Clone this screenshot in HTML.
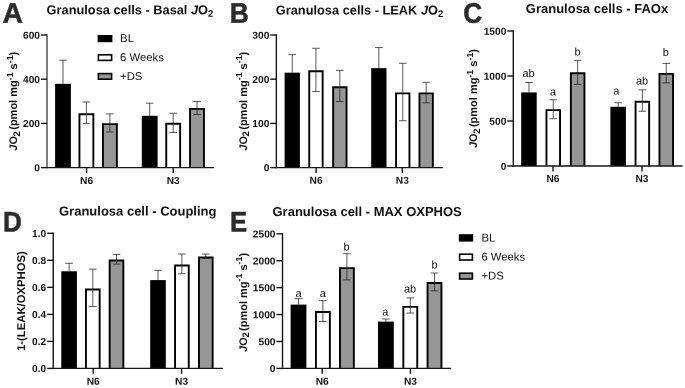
<!DOCTYPE html>
<html><head><meta charset="utf-8"><title>Figure</title>
<style>
html,body{margin:0;padding:0;background:#fff;}
body{width:685px;height:388px;overflow:hidden;font-family:"Liberation Sans",sans-serif;}
svg{display:block;will-change:transform;font-family:"Liberation Sans",sans-serif;}
svg text{fill:#111;text-rendering:geometricPrecision;}
</style></head><body>
<svg width="685" height="388" viewBox="0 0 685 388">
<rect width="685" height="388" fill="#fff"/>
<line x1="63" y1="83.84" x2="63" y2="60.19" stroke="#222" stroke-width="0.75"/>
<line x1="59.2" y1="60.19" x2="66.8" y2="60.19" stroke="#222" stroke-width="0.75"/>
<rect x="55.1" y="83.84" width="15.8" height="83.76" fill="#000"/>
<path d="M79.45 167.6V114.18H93.35V167.6" fill="#fff" stroke="#000" stroke-width="1.9"/>
<line x1="86.4" y1="123.62" x2="86.4" y2="101.96" stroke="#222" stroke-width="0.75"/>
<line x1="82.6" y1="101.96" x2="90.2" y2="101.96" stroke="#222" stroke-width="0.75"/>
<line x1="82.6" y1="123.62" x2="90.2" y2="123.62" stroke="#222" stroke-width="0.75"/>
<path d="M102.95 167.6V124.13H116.85V167.6" fill="#969696" stroke="#000" stroke-width="1.9"/>
<line x1="109.9" y1="132.02" x2="109.9" y2="113.9" stroke="#222" stroke-width="0.75"/>
<line x1="106.1" y1="113.9" x2="113.7" y2="113.9" stroke="#222" stroke-width="0.75"/>
<line x1="106.1" y1="132.02" x2="113.7" y2="132.02" stroke="#222" stroke-width="0.75"/>
<line x1="149.7" y1="115.78" x2="149.7" y2="103.18" stroke="#222" stroke-width="0.75"/>
<line x1="145.9" y1="103.18" x2="153.5" y2="103.18" stroke="#222" stroke-width="0.75"/>
<rect x="141.8" y="115.78" width="15.8" height="51.82" fill="#000"/>
<path d="M166.25 167.6V123.69H180.15V167.6" fill="#fff" stroke="#000" stroke-width="1.9"/>
<line x1="173.2" y1="132.46" x2="173.2" y2="113.23" stroke="#222" stroke-width="0.75"/>
<line x1="169.4" y1="113.23" x2="177" y2="113.23" stroke="#222" stroke-width="0.75"/>
<line x1="169.4" y1="132.46" x2="177" y2="132.46" stroke="#222" stroke-width="0.75"/>
<path d="M190.05 167.6V108.88H203.95V167.6" fill="#969696" stroke="#000" stroke-width="1.9"/>
<line x1="197" y1="114.56" x2="197" y2="101.52" stroke="#222" stroke-width="0.75"/>
<line x1="193.2" y1="101.52" x2="200.8" y2="101.52" stroke="#222" stroke-width="0.75"/>
<line x1="193.2" y1="114.56" x2="200.8" y2="114.56" stroke="#222" stroke-width="0.75"/>
<line x1="47" y1="34.3" x2="47" y2="168.3" stroke="#141414" stroke-width="1.1"/>
<line x1="46.3" y1="167.6" x2="214" y2="167.6" stroke="#141414" stroke-width="1.4"/>
<line x1="40.9" y1="167.6" x2="47" y2="167.6" stroke="#141414" stroke-width="1.4"/>
<text transform="translate(40,171.3) rotate(0.05)" text-anchor="end" font-size="10.2" font-weight="bold">0</text>
<line x1="40.9" y1="123.4" x2="47" y2="123.4" stroke="#141414" stroke-width="1.4"/>
<text transform="translate(40,127.1) rotate(0.05)" text-anchor="end" font-size="10.2" font-weight="bold">200</text>
<line x1="40.9" y1="79.2" x2="47" y2="79.2" stroke="#141414" stroke-width="1.4"/>
<text transform="translate(40,82.9) rotate(0.05)" text-anchor="end" font-size="10.2" font-weight="bold">400</text>
<line x1="40.9" y1="35" x2="47" y2="35" stroke="#141414" stroke-width="1.4"/>
<text transform="translate(40,38.7) rotate(0.05)" text-anchor="end" font-size="10.2" font-weight="bold">600</text>
<line x1="86.6" y1="167.6" x2="86.6" y2="173" stroke="#141414" stroke-width="1.4"/>
<text transform="translate(86.6,183.9) rotate(0.05)" text-anchor="middle" font-size="10.2" font-weight="bold">N6</text>
<line x1="173.2" y1="167.6" x2="173.2" y2="173" stroke="#141414" stroke-width="1.4"/>
<text transform="translate(173.2,183.9) rotate(0.05)" text-anchor="middle" font-size="10.2" font-weight="bold">N3</text>
<text transform="translate(2.5,22.7) rotate(0.05) scale(1,1)" font-size="28.3" font-weight="bold" style="fill:#2b2b2b;stroke:#2b2b2b;stroke-width:0.5;stroke-linejoin:miter">A</text>
<text transform="translate(46.6,14.2) rotate(0.05)" font-size="12.8" font-weight="bold" text-anchor="start">Granulosa cells - Basal <tspan font-style="italic">J</tspan>O<tspan font-size="9.5" dy="2.5">2</tspan></text>
<text transform="translate(17,150.7) rotate(-90)" text-anchor="start" font-size="11" font-weight="bold"><tspan font-style="italic">J</tspan>O<tspan font-size="9.5" dy="2.8" dx="-0.4">2</tspan><tspan dy="-2.8" dx="-1.7"> (pmol mg</tspan><tspan font-size="8.8" dy="-4.5">-1</tspan><tspan dy="4.5"> s</tspan><tspan font-size="8.8" dy="-4.5">-1</tspan><tspan dy="4.5">)</tspan></text>
<line x1="292.25" y1="72.66" x2="292.25" y2="54.58" stroke="#222" stroke-width="0.75"/>
<line x1="288.45" y1="54.58" x2="296.05" y2="54.58" stroke="#222" stroke-width="0.75"/>
<rect x="284.6" y="72.66" width="15.3" height="94.94" fill="#000"/>
<path d="M309.25 167.6V71.31H322.65V167.6" fill="#fff" stroke="#000" stroke-width="1.9"/>
<line x1="315.95" y1="91.58" x2="315.95" y2="48.26" stroke="#222" stroke-width="0.75"/>
<line x1="312.15" y1="48.26" x2="319.75" y2="48.26" stroke="#222" stroke-width="0.75"/>
<line x1="312.15" y1="91.58" x2="319.75" y2="91.58" stroke="#222" stroke-width="0.75"/>
<path d="M333.15 167.6V87.22H346.55V167.6" fill="#969696" stroke="#000" stroke-width="1.9"/>
<line x1="339.85" y1="101.52" x2="339.85" y2="70.36" stroke="#222" stroke-width="0.75"/>
<line x1="336.05" y1="70.36" x2="343.65" y2="70.36" stroke="#222" stroke-width="0.75"/>
<line x1="336.05" y1="101.52" x2="343.65" y2="101.52" stroke="#222" stroke-width="0.75"/>
<line x1="378.85" y1="68.15" x2="378.85" y2="47.55" stroke="#222" stroke-width="0.75"/>
<line x1="375.05" y1="47.55" x2="382.65" y2="47.55" stroke="#222" stroke-width="0.75"/>
<rect x="371.2" y="68.15" width="15.3" height="99.45" fill="#000"/>
<path d="M396.05 167.6V93.41H409.45V167.6" fill="#fff" stroke="#000" stroke-width="1.9"/>
<line x1="402.75" y1="120.75" x2="402.75" y2="63.29" stroke="#222" stroke-width="0.75"/>
<line x1="398.95" y1="63.29" x2="406.55" y2="63.29" stroke="#222" stroke-width="0.75"/>
<line x1="398.95" y1="120.75" x2="406.55" y2="120.75" stroke="#222" stroke-width="0.75"/>
<path d="M419.45 167.6V93.41H432.85V167.6" fill="#969696" stroke="#000" stroke-width="1.9"/>
<line x1="426.15" y1="102.85" x2="426.15" y2="82.29" stroke="#222" stroke-width="0.75"/>
<line x1="422.35" y1="82.29" x2="429.95" y2="82.29" stroke="#222" stroke-width="0.75"/>
<line x1="422.35" y1="102.85" x2="429.95" y2="102.85" stroke="#222" stroke-width="0.75"/>
<line x1="276.35" y1="34.3" x2="276.35" y2="168.3" stroke="#141414" stroke-width="1.4"/>
<line x1="275.65" y1="167.6" x2="442.8" y2="167.6" stroke="#141414" stroke-width="1.4"/>
<line x1="270.25" y1="167.6" x2="276.35" y2="167.6" stroke="#141414" stroke-width="1.4"/>
<text transform="translate(269.35,171.3) rotate(0.05)" text-anchor="end" font-size="10.2" font-weight="bold">0</text>
<line x1="270.25" y1="123.4" x2="276.35" y2="123.4" stroke="#141414" stroke-width="1.4"/>
<text transform="translate(269.35,127.1) rotate(0.05)" text-anchor="end" font-size="10.2" font-weight="bold">100</text>
<line x1="270.25" y1="79.2" x2="276.35" y2="79.2" stroke="#141414" stroke-width="1.4"/>
<text transform="translate(269.35,82.9) rotate(0.05)" text-anchor="end" font-size="10.2" font-weight="bold">200</text>
<line x1="270.25" y1="35" x2="276.35" y2="35" stroke="#141414" stroke-width="1.4"/>
<text transform="translate(269.35,38.7) rotate(0.05)" text-anchor="end" font-size="10.2" font-weight="bold">300</text>
<line x1="316.1" y1="167.6" x2="316.1" y2="173" stroke="#141414" stroke-width="1.4"/>
<text transform="translate(316.1,183.8) rotate(0.05)" text-anchor="middle" font-size="10.2" font-weight="bold">N6</text>
<line x1="402.3" y1="167.6" x2="402.3" y2="173" stroke="#141414" stroke-width="1.4"/>
<text transform="translate(402.3,183.8) rotate(0.05)" text-anchor="middle" font-size="10.2" font-weight="bold">N3</text>
<text transform="translate(229.7,22.7) rotate(0.05) scale(0.93,1)" font-size="28.3" font-weight="bold" style="fill:#2b2b2b;stroke:#2b2b2b;stroke-width:0.5;stroke-linejoin:miter">B</text>
<text transform="translate(275.8,14.4) rotate(0.05)" font-size="12.8" font-weight="bold" text-anchor="start">Granulosa cells - LEAK <tspan font-style="italic">J</tspan>O<tspan font-size="9.5" dy="2.5">2</tspan></text>
<text transform="translate(246.6,150.7) rotate(-90)" text-anchor="start" font-size="11" font-weight="bold"><tspan font-style="italic">J</tspan>O<tspan font-size="9.5" dy="2.8" dx="-0.4">2</tspan><tspan dy="-2.8" dx="-1.7"> (pmol mg</tspan><tspan font-size="8.8" dy="-4.5">-1</tspan><tspan dy="4.5"> s</tspan><tspan font-size="8.8" dy="-4.5">-1</tspan><tspan dy="4.5">)</tspan></text>
<line x1="528.95" y1="92.42" x2="528.95" y2="82.56" stroke="#222" stroke-width="0.75"/>
<line x1="525.15" y1="82.56" x2="532.75" y2="82.56" stroke="#222" stroke-width="0.75"/>
<rect x="521.2" y="92.42" width="15.5" height="73.58" fill="#000"/>
<path d="M546.45 166V110.14H560.05V166" fill="#fff" stroke="#000" stroke-width="1.9"/>
<line x1="553.25" y1="118.7" x2="553.25" y2="99.78" stroke="#222" stroke-width="0.75"/>
<line x1="549.45" y1="99.78" x2="557.05" y2="99.78" stroke="#222" stroke-width="0.75"/>
<line x1="549.45" y1="118.7" x2="557.05" y2="118.7" stroke="#222" stroke-width="0.75"/>
<path d="M570.85 166V73.29H584.45V166" fill="#969696" stroke="#000" stroke-width="1.9"/>
<line x1="577.65" y1="84.35" x2="577.65" y2="60.41" stroke="#222" stroke-width="0.75"/>
<line x1="573.85" y1="60.41" x2="581.45" y2="60.41" stroke="#222" stroke-width="0.75"/>
<line x1="573.85" y1="84.35" x2="581.45" y2="84.35" stroke="#222" stroke-width="0.75"/>
<line x1="618.15" y1="106.77" x2="618.15" y2="102.73" stroke="#222" stroke-width="0.75"/>
<line x1="614.35" y1="102.73" x2="621.95" y2="102.73" stroke="#222" stroke-width="0.75"/>
<rect x="610.4" y="106.77" width="15.5" height="59.23" fill="#000"/>
<path d="M635.55 166V101.71H649.15V166" fill="#fff" stroke="#000" stroke-width="1.9"/>
<line x1="642.35" y1="111.25" x2="642.35" y2="89.82" stroke="#222" stroke-width="0.75"/>
<line x1="638.55" y1="89.82" x2="646.15" y2="89.82" stroke="#222" stroke-width="0.75"/>
<line x1="638.55" y1="111.25" x2="646.15" y2="111.25" stroke="#222" stroke-width="0.75"/>
<path d="M659.45 166V73.92H673.05V166" fill="#969696" stroke="#000" stroke-width="1.9"/>
<line x1="666.25" y1="82.92" x2="666.25" y2="63.37" stroke="#222" stroke-width="0.75"/>
<line x1="662.45" y1="63.37" x2="670.05" y2="63.37" stroke="#222" stroke-width="0.75"/>
<line x1="662.45" y1="82.92" x2="670.05" y2="82.92" stroke="#222" stroke-width="0.75"/>
<line x1="513.3" y1="30.3" x2="513.3" y2="166.7" stroke="#141414" stroke-width="1.4"/>
<line x1="512.6" y1="166" x2="682.5" y2="166" stroke="#141414" stroke-width="1.4"/>
<line x1="507.2" y1="166" x2="513.3" y2="166" stroke="#141414" stroke-width="1.4"/>
<text transform="translate(506.3,169.7) rotate(0.05)" text-anchor="end" font-size="10.2" font-weight="bold">0</text>
<line x1="507.2" y1="121" x2="513.3" y2="121" stroke="#141414" stroke-width="1.4"/>
<text transform="translate(506.3,124.7) rotate(0.05)" text-anchor="end" font-size="10.2" font-weight="bold">500</text>
<line x1="507.2" y1="76" x2="513.3" y2="76" stroke="#141414" stroke-width="1.4"/>
<text transform="translate(506.3,79.7) rotate(0.05)" text-anchor="end" font-size="10.2" font-weight="bold">1000</text>
<line x1="507.2" y1="31" x2="513.3" y2="31" stroke="#141414" stroke-width="1.4"/>
<text transform="translate(506.3,34.7) rotate(0.05)" text-anchor="end" font-size="10.2" font-weight="bold">1500</text>
<line x1="553" y1="166" x2="553" y2="171.4" stroke="#141414" stroke-width="1.4"/>
<text transform="translate(553,182) rotate(0.05)" text-anchor="middle" font-size="10.2" font-weight="bold">N6</text>
<line x1="642" y1="166" x2="642" y2="171.4" stroke="#141414" stroke-width="1.4"/>
<text transform="translate(642,182) rotate(0.05)" text-anchor="middle" font-size="10.2" font-weight="bold">N3</text>
<text transform="translate(463.2,22.8) rotate(0.05) scale(0.93,1)" font-size="28.3" font-weight="bold" style="fill:#2b2b2b;stroke:#2b2b2b;stroke-width:0.5;stroke-linejoin:miter">C</text>
<text transform="translate(525.8,13) rotate(0.05)" font-size="13.0" font-weight="bold" text-anchor="start">Granulosa cells - FAOx</text>
<text transform="translate(477.2,148) rotate(-90)" text-anchor="start" font-size="11" font-weight="bold"><tspan font-style="italic">J</tspan>O<tspan font-size="9.5" dy="2.8" dx="-0.4">2</tspan><tspan dy="-2.8" dx="-1.7"> (pmol mg</tspan><tspan font-size="8.8" dy="-4.5">-1</tspan><tspan dy="4.5"> s</tspan><tspan font-size="8.8" dy="-4.5">-1</tspan><tspan dy="4.5">)</tspan></text>
<text transform="translate(528.5,77) rotate(0.05)" text-anchor="middle" font-size="11">ab</text>
<text transform="translate(553,95.5) rotate(0.05)" text-anchor="middle" font-size="11">a</text>
<text transform="translate(577.5,55.4) rotate(0.05)" text-anchor="middle" font-size="11">b</text>
<text transform="translate(616.3,94.5) rotate(0.05)" text-anchor="middle" font-size="11">a</text>
<text transform="translate(642.1,84.5) rotate(0.05)" text-anchor="middle" font-size="11">ab</text>
<text transform="translate(665.9,55.9) rotate(0.05)" text-anchor="middle" font-size="11">b</text>
<line x1="69.1" y1="271.26" x2="69.1" y2="263.29" stroke="#222" stroke-width="0.75"/>
<line x1="65.3" y1="263.29" x2="72.9" y2="263.29" stroke="#222" stroke-width="0.75"/>
<rect x="61.3" y="271.26" width="15.6" height="97.14" fill="#000"/>
<path d="M85.95 368.4V289.44H99.65V368.4" fill="#fff" stroke="#000" stroke-width="1.9"/>
<line x1="92.8" y1="306.58" x2="92.8" y2="269.16" stroke="#222" stroke-width="0.75"/>
<line x1="89" y1="269.16" x2="96.6" y2="269.16" stroke="#222" stroke-width="0.75"/>
<line x1="89" y1="306.58" x2="96.6" y2="306.58" stroke="#222" stroke-width="0.75"/>
<path d="M109.65 368.4V260.43H123.35V368.4" fill="#969696" stroke="#000" stroke-width="1.9"/>
<line x1="116.5" y1="264.1" x2="116.5" y2="254.44" stroke="#222" stroke-width="0.75"/>
<line x1="112.7" y1="254.44" x2="120.3" y2="254.44" stroke="#222" stroke-width="0.75"/>
<line x1="112.7" y1="264.1" x2="120.3" y2="264.1" stroke="#222" stroke-width="0.75"/>
<line x1="158" y1="280.09" x2="158" y2="270.41" stroke="#222" stroke-width="0.75"/>
<line x1="154.2" y1="270.41" x2="161.8" y2="270.41" stroke="#222" stroke-width="0.75"/>
<rect x="150.2" y="280.09" width="15.6" height="88.31" fill="#000"/>
<path d="M175.05 368.4V265.49H188.75V368.4" fill="#fff" stroke="#000" stroke-width="1.9"/>
<line x1="181.9" y1="273.78" x2="181.9" y2="254.02" stroke="#222" stroke-width="0.75"/>
<line x1="178.1" y1="254.02" x2="185.7" y2="254.02" stroke="#222" stroke-width="0.75"/>
<line x1="178.1" y1="273.78" x2="185.7" y2="273.78" stroke="#222" stroke-width="0.75"/>
<path d="M198.95 368.4V257.49H212.65V368.4" fill="#969696" stroke="#000" stroke-width="1.9"/>
<line x1="205.8" y1="258.2" x2="205.8" y2="254.02" stroke="#222" stroke-width="0.75"/>
<line x1="202" y1="254.02" x2="209.6" y2="254.02" stroke="#222" stroke-width="0.75"/>
<line x1="202" y1="258.2" x2="209.6" y2="258.2" stroke="#222" stroke-width="0.75"/>
<line x1="53.25" y1="232.6" x2="53.25" y2="369.1" stroke="#141414" stroke-width="1.4"/>
<line x1="52.55" y1="368.4" x2="222.9" y2="368.4" stroke="#141414" stroke-width="1.4"/>
<line x1="47.15" y1="368.4" x2="53.25" y2="368.4" stroke="#141414" stroke-width="1.4"/>
<text transform="translate(46.25,372.1) rotate(0.05)" text-anchor="end" font-size="10.2" font-weight="bold">0.0</text>
<line x1="47.15" y1="341.38" x2="53.25" y2="341.38" stroke="#141414" stroke-width="1.4"/>
<text transform="translate(46.25,345.08) rotate(0.05)" text-anchor="end" font-size="10.2" font-weight="bold">0.2</text>
<line x1="47.15" y1="314.36" x2="53.25" y2="314.36" stroke="#141414" stroke-width="1.4"/>
<text transform="translate(46.25,318.06) rotate(0.05)" text-anchor="end" font-size="10.2" font-weight="bold">0.4</text>
<line x1="47.15" y1="287.34" x2="53.25" y2="287.34" stroke="#141414" stroke-width="1.4"/>
<text transform="translate(46.25,291.04) rotate(0.05)" text-anchor="end" font-size="10.2" font-weight="bold">0.6</text>
<line x1="47.15" y1="260.32" x2="53.25" y2="260.32" stroke="#141414" stroke-width="1.4"/>
<text transform="translate(46.25,264.02) rotate(0.05)" text-anchor="end" font-size="10.2" font-weight="bold">0.8</text>
<line x1="47.15" y1="233.3" x2="53.25" y2="233.3" stroke="#141414" stroke-width="1.4"/>
<text transform="translate(46.25,237) rotate(0.05)" text-anchor="end" font-size="10.2" font-weight="bold">1.0</text>
<line x1="93.2" y1="368.4" x2="93.2" y2="373.8" stroke="#141414" stroke-width="1.4"/>
<text transform="translate(93.2,384.7) rotate(0.05)" text-anchor="middle" font-size="10.2" font-weight="bold">N6</text>
<line x1="181.6" y1="368.4" x2="181.6" y2="373.8" stroke="#141414" stroke-width="1.4"/>
<text transform="translate(181.6,384.7) rotate(0.05)" text-anchor="middle" font-size="10.2" font-weight="bold">N3</text>
<text transform="translate(3.1,231.6) rotate(0.05) scale(0.92,1)" font-size="28.3" font-weight="bold" style="fill:#2b2b2b;stroke:#2b2b2b;stroke-width:0.5;stroke-linejoin:miter">D</text>
<text transform="translate(59,215.5) rotate(0.05)" font-size="13.0" font-weight="bold" text-anchor="start">Granulosa cell - Coupling</text>
<text transform="translate(24.5,301.1) rotate(-90)" text-anchor="middle" font-size="11.3" font-weight="bold">1-(LEAK/OXPHOS)</text>
<line x1="298.5" y1="304.6" x2="298.5" y2="298.62" stroke="#222" stroke-width="0.75"/>
<line x1="294.7" y1="298.62" x2="302.3" y2="298.62" stroke="#222" stroke-width="0.75"/>
<rect x="290.6" y="304.6" width="15.8" height="63.8" fill="#000"/>
<path d="M315.95 368.4V312.01H329.85V368.4" fill="#fff" stroke="#000" stroke-width="1.9"/>
<line x1="322.9" y1="321.51" x2="322.9" y2="300.62" stroke="#222" stroke-width="0.75"/>
<line x1="319.1" y1="300.62" x2="326.7" y2="300.62" stroke="#222" stroke-width="0.75"/>
<line x1="319.1" y1="321.51" x2="326.7" y2="321.51" stroke="#222" stroke-width="0.75"/>
<path d="M339.95 368.4V268.13H353.85V368.4" fill="#969696" stroke="#000" stroke-width="1.9"/>
<line x1="346.9" y1="279.89" x2="346.9" y2="253.72" stroke="#222" stroke-width="0.75"/>
<line x1="343.1" y1="253.72" x2="350.7" y2="253.72" stroke="#222" stroke-width="0.75"/>
<line x1="343.1" y1="279.89" x2="350.7" y2="279.89" stroke="#222" stroke-width="0.75"/>
<line x1="385.9" y1="321.61" x2="385.9" y2="318.97" stroke="#222" stroke-width="0.75"/>
<line x1="382.1" y1="318.97" x2="389.7" y2="318.97" stroke="#222" stroke-width="0.75"/>
<rect x="378" y="321.61" width="15.8" height="46.79" fill="#000"/>
<path d="M403.35 368.4V306.84H417.25V368.4" fill="#fff" stroke="#000" stroke-width="1.9"/>
<line x1="410.3" y1="313.05" x2="410.3" y2="297.92" stroke="#222" stroke-width="0.75"/>
<line x1="406.5" y1="297.92" x2="414.1" y2="297.92" stroke="#222" stroke-width="0.75"/>
<line x1="406.5" y1="313.05" x2="414.1" y2="313.05" stroke="#222" stroke-width="0.75"/>
<path d="M427.55 368.4V282.94H441.45V368.4" fill="#969696" stroke="#000" stroke-width="1.9"/>
<line x1="434.5" y1="290.92" x2="434.5" y2="273" stroke="#222" stroke-width="0.75"/>
<line x1="430.7" y1="273" x2="438.3" y2="273" stroke="#222" stroke-width="0.75"/>
<line x1="430.7" y1="290.92" x2="438.3" y2="290.92" stroke="#222" stroke-width="0.75"/>
<line x1="282.5" y1="233.1" x2="282.5" y2="369.1" stroke="#141414" stroke-width="1.4"/>
<line x1="281.8" y1="368.4" x2="451.1" y2="368.4" stroke="#141414" stroke-width="1.4"/>
<line x1="276.4" y1="368.4" x2="282.5" y2="368.4" stroke="#141414" stroke-width="1.4"/>
<text transform="translate(275.5,372.1) rotate(0.05)" text-anchor="end" font-size="10.2" font-weight="bold">0</text>
<line x1="276.4" y1="341.48" x2="282.5" y2="341.48" stroke="#141414" stroke-width="1.4"/>
<text transform="translate(275.5,345.18) rotate(0.05)" text-anchor="end" font-size="10.2" font-weight="bold">500</text>
<line x1="276.4" y1="314.56" x2="282.5" y2="314.56" stroke="#141414" stroke-width="1.4"/>
<text transform="translate(275.5,318.26) rotate(0.05)" text-anchor="end" font-size="10.2" font-weight="bold">1000</text>
<line x1="276.4" y1="287.64" x2="282.5" y2="287.64" stroke="#141414" stroke-width="1.4"/>
<text transform="translate(275.5,291.34) rotate(0.05)" text-anchor="end" font-size="10.2" font-weight="bold">1500</text>
<line x1="276.4" y1="260.72" x2="282.5" y2="260.72" stroke="#141414" stroke-width="1.4"/>
<text transform="translate(275.5,264.42) rotate(0.05)" text-anchor="end" font-size="10.2" font-weight="bold">2000</text>
<line x1="276.4" y1="233.8" x2="282.5" y2="233.8" stroke="#141414" stroke-width="1.4"/>
<text transform="translate(275.5,237.5) rotate(0.05)" text-anchor="end" font-size="10.2" font-weight="bold">2500</text>
<line x1="322.2" y1="368.4" x2="322.2" y2="373.8" stroke="#141414" stroke-width="1.4"/>
<text transform="translate(322.2,384.7) rotate(0.05)" text-anchor="middle" font-size="10.2" font-weight="bold">N6</text>
<line x1="410.4" y1="368.4" x2="410.4" y2="373.8" stroke="#141414" stroke-width="1.4"/>
<text transform="translate(410.4,384.7) rotate(0.05)" text-anchor="middle" font-size="10.2" font-weight="bold">N3</text>
<text transform="translate(230,231.4) rotate(0.05) scale(0.91,1)" font-size="28.3" font-weight="bold" style="fill:#2b2b2b;stroke:#2b2b2b;stroke-width:0.5;stroke-linejoin:miter">E</text>
<text transform="translate(272.5,215.9) rotate(0.05)" font-size="13.0" font-weight="bold" text-anchor="start">Granulosa cell - MAX OXPHOS</text>
<text transform="translate(246.5,351.9) rotate(-90)" text-anchor="start" font-size="11" font-weight="bold"><tspan font-style="italic">J</tspan>O<tspan font-size="9.5" dy="2.8" dx="-0.4">2</tspan><tspan dy="-2.8" dx="-1.7"> (pmol mg</tspan><tspan font-size="8.8" dy="-4.5">-1</tspan><tspan dy="4.5"> s</tspan><tspan font-size="8.8" dy="-4.5">-1</tspan><tspan dy="4.5">)</tspan></text>
<text transform="translate(298.5,296.9) rotate(0.05)" text-anchor="middle" font-size="11">a</text>
<text transform="translate(322.7,296.9) rotate(0.05)" text-anchor="middle" font-size="11">a</text>
<text transform="translate(346.6,250.6) rotate(0.05)" text-anchor="middle" font-size="11">b</text>
<text transform="translate(385.3,315.4) rotate(0.05)" text-anchor="middle" font-size="11">a</text>
<text transform="translate(410,292.5) rotate(0.05)" text-anchor="middle" font-size="11">ab</text>
<text transform="translate(434.5,268.5) rotate(0.05)" text-anchor="middle" font-size="11">b</text>
<rect x="98.4" y="35.8" width="13.2" height="5.6" fill="#000" stroke="#000" stroke-width="1.6"/>
<text transform="translate(120.1,42.1) rotate(0.05)" font-size="11.3">BL</text>
<rect x="98.4" y="54.8" width="13.2" height="5.6" fill="#fff" stroke="#000" stroke-width="1.6"/>
<text transform="translate(120.1,61.1) rotate(0.05)" font-size="11.3">6 Weeks</text>
<rect x="98.4" y="73.6" width="13.2" height="5.6" fill="#969696" stroke="#000" stroke-width="1.6"/>
<text transform="translate(120.1,79.9) rotate(0.05)" font-size="11.3">+DS</text>
<rect x="459.6" y="235" width="12.8" height="5.8" fill="#000" stroke="#000" stroke-width="1.6"/>
<text transform="translate(481.4,241.4) rotate(0.05)" font-size="11.3">BL</text>
<rect x="459.6" y="254.2" width="12.8" height="5.8" fill="#fff" stroke="#000" stroke-width="1.6"/>
<text transform="translate(481.4,260.6) rotate(0.05)" font-size="11.3">6 Weeks</text>
<rect x="459.6" y="273.2" width="12.8" height="5.8" fill="#969696" stroke="#000" stroke-width="1.6"/>
<text transform="translate(481.4,279.6) rotate(0.05)" font-size="11.3">+DS</text>
</svg>
</body></html>
